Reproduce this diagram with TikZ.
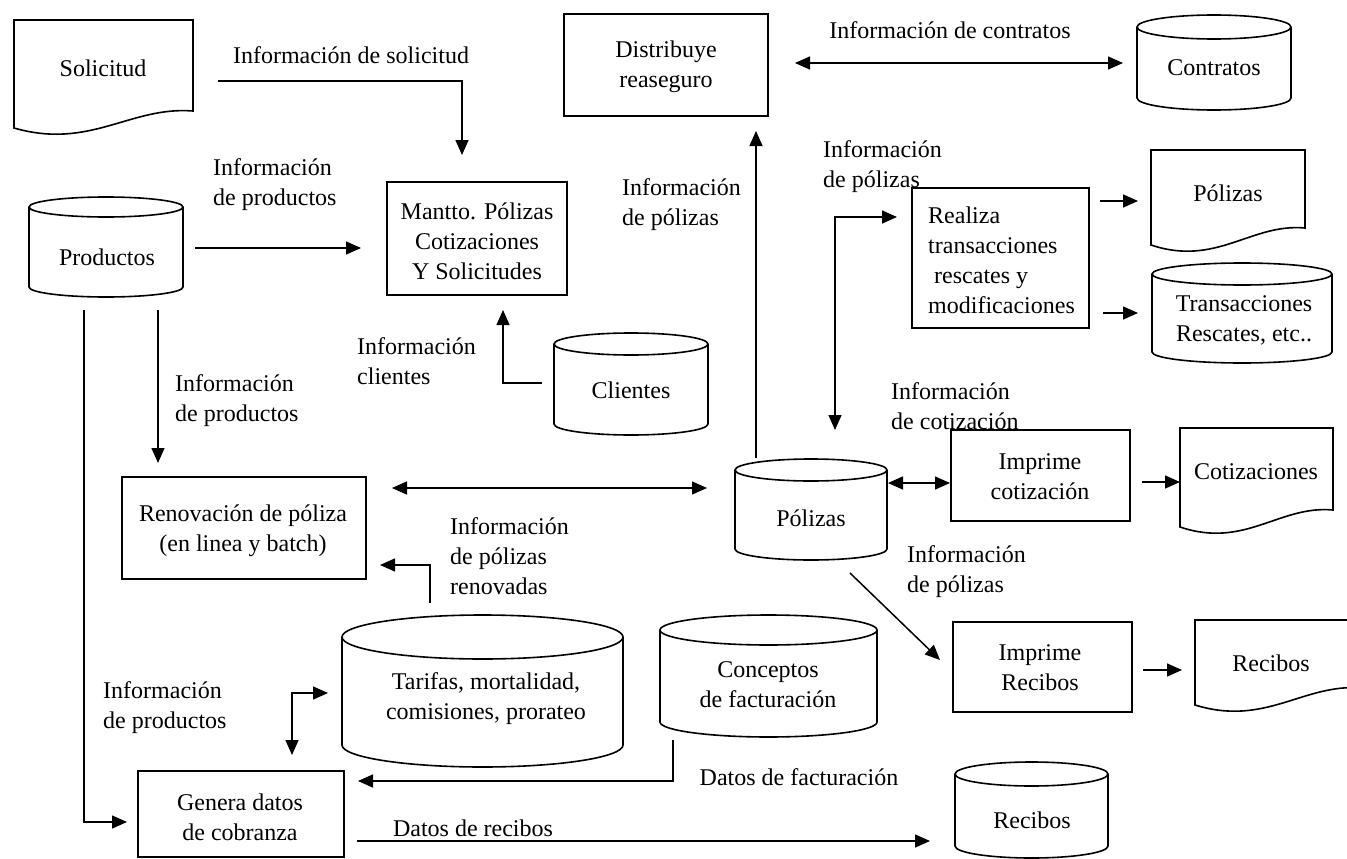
\documentclass[tikz,border=0pt]{standalone}
\usepackage{fontspec}
\setmainfont{Liberation Serif}
\usetikzlibrary{arrows.meta}

% database drum: x1, y1, x2, y2, vertical radius of the ellipses
\newcommand{\dbshape}[5]{%
  \pgfmathsetmacro\cylrx{(#3-#1)/2}%
  \draw[shapeline] (#1,#2+#5) -- (#1,#4-#5)
    arc[start angle=180,end angle=360,x radius=\cylrx pt,y radius=#5pt]
    -- (#3,#2+#5)
    arc[start angle=0,end angle=360,x radius=\cylrx pt,y radius=#5pt];
}
% printed document with a wavy lower edge: x1, y1, x2, y2 (lower left)
\newcommand{\docshape}[4]{%
  \pgfmathsetmacro\dW{#3-#1}%
  \pgfmathsetmacro\dRB{#4-17}%
  \pgfmathsetmacro\cAx{#3-0.35*\dW}%
  \pgfmathsetmacro\cAy{\dRB-5}%
  \pgfmathsetmacro\cBx{#1+0.425*\dW}%
  \pgfmathsetmacro\cBy{#4+22}%
  \draw[shapeline] (#1,#2) -- (#3,#2) -- (#3,\dRB)
    .. controls (\cAx,\cAy) and (\cBx,\cBy) .. (#1,#4) -- cycle;
}
% process box: x1, y1, x2, y2
\newcommand{\procbox}[4]{\draw[shapeline] (#1,#2) rectangle (#3,#4);}

\begin{document}
\begin{tikzpicture}[x=1pt,y=-1pt,
  shapeline/.style={line width=1.6pt, line join=miter},
  flow/.style={line width=1.5pt, -{Triangle[length=15pt,width=13pt]}},
  flowboth/.style={line width=1.5pt, {Triangle[length=15pt,width=13pt]}-{Triangle[length=15pt,width=13pt]}},
  txt/.style={inner sep=0pt, align=center, font=\fontsize{24}{30}\selectfont},
  lbl/.style={inner sep=0pt, align=left, anchor=west, font=\fontsize{24}{30}\selectfont},
]
\useasboundingbox (0,0) rectangle (1347,859);
\clip (0,0) rectangle (1347,859);
\fill[white] (0,0) rectangle (1347,859);

% ---------- shapes ----------
\docshape{14}{20}{193}{128}
\dbshape{29}{197}{183}{297}{10}
\procbox{387}{182}{567}{295}
\procbox{564}{14}{768}{116}
\dbshape{1137}{15}{1291}{110}{12}
\procbox{912}{188}{1089}{328}
\docshape{1151}{150}{1305}{245}
\dbshape{1152}{263}{1332}{363}{11}
\dbshape{554}{333}{708}{435}{11}
\procbox{122}{477}{366}{579}
\dbshape{735}{459}{887}{560}{11}
\procbox{951}{430}{1130}{521}
\docshape{1180}{428}{1333}{527}
\dbshape{342}{615}{623}{767}{22}
\dbshape{660}{615}{877}{737}{15}
\procbox{953}{622}{1132}{712}
\docshape{1195}{620}{1362}{705}
\procbox{138}{771}{344}{857}
\dbshape{955}{762}{1108}{858}{12}

% ---------- texts inside shapes ----------
\node[txt] (solicitud) at (103,68) {Solicitud};
\node[txt] (productos) at (107,257) {Productos};
\node[txt] (mantto) at (477,241) {Mantto. Pólizas\\Cotizaciones\\Y Solicitudes};
\node[txt] (distribuye) at (666,67) {Distribuye\\reaseguro};
\node[txt] (contratos) at (1214,68) {Contratos};
\node[lbl] (realiza) at (928,260) {Realiza\\transacciones\\\ rescates y\\modificaciones};
\node[txt] (polizasdoc) at (1228,193) {Pólizas};
\node[txt] (transacciones) at (1244,320) {Transacciones\\Rescates, etc..};
\node[txt] (clientes) at (631,390) {Clientes};
\node[txt] (renovacion) at (243,531) {Renovación de póliza\\(en linea y batch)};
\node[txt] (polizasdb) at (811,518) {Pólizas};
\node[txt] (imprimecot) at (1040,477) {Imprime\\cotización};
\node[txt] (cotizaciones) at (1256,472) {Cotizaciones};
\node[txt] (tarifas) at (486,699) {Tarifas, mortalidad,\\comisiones, prorateo};
\node[txt] (conceptos) at (768,685) {Conceptos\\de facturación};
\node[txt] (imprimerec) at (1040,668) {Imprime\\Recibos};
\node[txt] (recibosdoc) at (1271,663) {Recibos};
\node[txt] (genera) at (240,817) {Genera datos\\de cobranza};
\node[txt] (recibosdb) at (1032,820) {Recibos};

% ---------- connector labels ----------
\node[txt] (l-sol) at (351,55) {Información de solicitud};
\node[lbl] (l-prod1) at (213,185) {Información\\de productos};
\node[txt] (l-contr) at (950,30) {Información de contratos};
\node[lbl] (l-pol1) at (622,205) {Información\\de pólizas};
\node[lbl] (l-pol2) at (823,167) {Información\\de pólizas};
\node[lbl] (l-cli) at (357,361) {Información\\clientes};
\node[lbl] (l-prod2) at (175,401) {Información\\de productos};
\node[lbl] (l-cot) at (891,406) {Información\\de cotización};
\node[lbl] (l-ren) at (450,556) {Información\\de pólizas\\renovadas};
\node[lbl] (l-pol3) at (907,572) {Información\\de pólizas};
\node[lbl] (l-prod3) at (103,708) {Información\\de productos};
\node[txt] (l-fact) at (799,777) {Datos de facturación};
\node[txt] (l-rec) at (473,828) {Datos de recibos};

% ---------- connector end points ----------
\coordinate (sol-out) at (218,81);
\coordinate (mantto-top) at (462,155);
\coordinate (prod-right) at (195,248);
\coordinate (mantto-left) at (361,248);
\coordinate (dist-right) at (795,63);
\coordinate (contr-left) at (1123,63);
\coordinate (poldb-top) at (756,458);
\coordinate (dist-bottom) at (756,131);
\coordinate (cli-left) at (542,383);
\coordinate (mantto-bottom) at (503,310);
\coordinate (prod-bottom1) at (158,310);
\coordinate (renov-top) at (158,463);
\coordinate (prod-bottom2) at (84,310);
\coordinate (genera-left) at (127,822);
\coordinate (renov-right) at (392,488);
\coordinate (poldb-left) at (707,488);
\coordinate (tarifas-top) at (430,603);
\coordinate (renov-right2) at (380,565);
\coordinate (realiza-left) at (897,217);
\coordinate (poldb-top2) at (835,430);
\coordinate (realiza-out1) at (1100,201);
\coordinate (poldoc-left) at (1138,201);
\coordinate (realiza-out2) at (1103,313);
\coordinate (trans-left) at (1138,313);
\coordinate (poldb-right) at (888,483);
\coordinate (impcot-left) at (950,483);
\coordinate (impcot-right) at (1142,482);
\coordinate (cot-left) at (1180,482);
\coordinate (poldb-bottom) at (850,573);
\coordinate (imprec-left) at (940,660);
\coordinate (imprec-right) at (1143,670);
\coordinate (recdoc-left) at (1182,670);
\coordinate (tarifas-left) at (328,693);
\coordinate (genera-top) at (292,755);
\coordinate (conc-bottom) at (673,740);
\coordinate (genera-right) at (358,781);
\coordinate (genera-out) at (357,841);
\coordinate (recdb-left) at (930,841);

% ---------- connectors ----------
\draw[flow] (sol-out) -| (mantto-top);
\draw[flow] (prod-right) -- (mantto-left);
\draw[flowboth] (dist-right) -- (contr-left);
\draw[flow] (poldb-top) -- (dist-bottom);
\draw[flow] (cli-left) -| (mantto-bottom);
\draw[flow] (prod-bottom1) -- (renov-top);
\draw[flow] (prod-bottom2) |- (genera-left);
\draw[flowboth] (renov-right) -- (poldb-left);
\draw[flow] (tarifas-top) |- (renov-right2);
\draw[flowboth] (poldb-top2) |- (realiza-left);
\draw[flow] (realiza-out1) -- (poldoc-left);
\draw[flow] (realiza-out2) -- (trans-left);
\draw[flowboth] (poldb-right) -- (impcot-left);
\draw[flow] (impcot-right) -- (cot-left);
\draw[flow] (poldb-bottom) -- (imprec-left);
\draw[flow] (imprec-right) -- (recdoc-left);
\draw[flowboth] (tarifas-left) -| (genera-top);
\draw[flow] (conc-bottom) |- (genera-right);
\draw[flow] (genera-out) -- (recdb-left);
\end{tikzpicture}
\end{document}
